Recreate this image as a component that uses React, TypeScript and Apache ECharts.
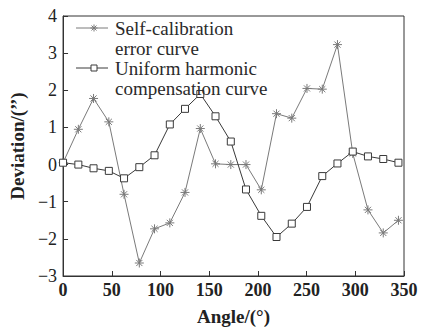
import React, { useEffect, useRef } from "react";
import * as echarts from "echarts";

const angles = [0, 15.7, 31.3, 47, 62.6, 78.3, 93.9, 109.6, 125.2, 140.9, 156.5, 172.2, 187.8, 203.5, 219.1, 234.8, 250.4, 266.1, 281.7, 297.4, 313, 328.7, 344.3];
const selfCalibration = [0.05, 0.95, 1.78, 1.15, -0.8, -2.65, -1.73, -1.57, -0.75, 0.97, 0.02, 0.0, 0.0, -0.68, 1.37, 1.25, 2.05, 2.03, 3.23, 0.3, -1.22, -1.84, -1.5];
const uniformHarmonic = [0.05, 0.0, -0.1, -0.17, -0.37, -0.07, 0.25, 1.08, 1.5, 1.9, 1.3, 0.62, -0.67, -1.38, -1.95, -1.59, -1.14, -0.31, 0.03, 0.35, 0.22, 0.15, 0.05];
const seriesNames = ["Self-calibration error curve", "Uniform harmonic compensation curve"];
const legendLines = [["Self-calibration", "error curve"], ["Uniform harmonic", "compensation curve"]];
const xTicks = { min: 0, max: 350, interval: 50 };
const yTicks = { min: -3, max: 4, interval: 1 };

const STAR = "path://M5,0L5,10M0,5L10,5M1.6,1.6L8.4,8.4M1.6,8.4L8.4,1.6";
const FONT = "Liberation Serif";
const GRAY = "#7a7a7a";
const DARK = "#3a3a3a";

export default function App() {
  const ref = useRef<HTMLDivElement>(null);
  useEffect(() => {
    if (!ref.current) return;
    try {
      echarts.graphic.registerShape(
        "legendStar",
        echarts.graphic.extendPath("M0,-3.5L0,3.5M-3.5,0L3.5,0M-2.5,-2.5L2.5,2.5M-2.5,2.5L2.5,-2.5", {})
      );
    } catch (e) {}
    const chart = echarts.init(ref.current, null, { renderer: "svg" });
    const s1 = angles.map((a, i) => [a, selfCalibration[i]]);
    const s2 = angles.map((a, i) => [a, uniformHarmonic[i]]);
    const lx1 = 76, lx2 = 108, tx = 115;
    const ly = [28, 68];
    const graphic: any[] = [];
    const titles: any[] = [];
    ly.forEach((y, k) => {
      const col = k === 0 ? GRAY : DARK;
      graphic.push({ type: "line", shape: { x1: lx1, y1: y, x2: lx2, y2: y }, style: { stroke: col, lineWidth: 1 }, z: 10 });
      if (k === 0) {
        graphic.push({ type: "legendStar", x: 94, y, style: { stroke: col, lineWidth: 1, fill: "none" }, z: 11 });
      } else {
        graphic.push({ type: "rect", shape: { x: 94 - 3, y: y - 3, width: 6, height: 6 }, style: { stroke: col, lineWidth: 1, fill: "#fff" }, z: 11 });
      }
      legendLines[k].forEach((t, j) => {
        titles.push({
          text: t, left: tx, top: y + j * 20 - 10, padding: 0, itemGap: 0,
          textStyle: { fontFamily: FONT, fontSize: 19, fontWeight: "normal", color: "#2a2a2a", lineHeight: 20 },
        });
      });
    });
    chart.setOption({
      animation: false,
      backgroundColor: "#fff",
      textStyle: { fontFamily: FONT },
      title: titles,
      grid: { left: 63, right: 25, top: 16, bottom: 50, show: true, borderColor: "#333", borderWidth: 1, backgroundColor: "transparent" },
      xAxis: {
        type: "value",
        min: xTicks.min, max: xTicks.max, interval: xTicks.interval,
        name: "Angle/(°)", nameLocation: "middle", nameGap: 31,
        nameTextStyle: { fontFamily: FONT, fontSize: 19, fontWeight: "bold", color: "#222" },
        axisLine: { onZero: false, lineStyle: { color: "#333", width: 1 } },
        axisTick: { inside: true, length: 5, lineStyle: { color: "#333" } },
        axisLabel: { fontFamily: FONT, fontSize: 18, fontWeight: "bold", color: "#222", margin: 5 },
        splitLine: { show: false },
      },
      yAxis: {
        type: "value",
        min: yTicks.min, max: yTicks.max, interval: yTicks.interval,
        name: "Deviation/(\u2019\u2019)", nameLocation: "middle", nameGap: 32,
        nameTextStyle: { fontFamily: FONT, fontSize: 19, fontWeight: "bold", color: "#222" },
        axisLine: { onZero: false, lineStyle: { color: "#333", width: 1 } },
        axisTick: { inside: true, length: 5, lineStyle: { color: "#333" } },
        axisLabel: { fontFamily: FONT, fontSize: 18, color: "#222", margin: 6, formatter: (v: number) => (v < 0 ? "\u2212" + Math.abs(v) : String(v)) },
        splitLine: { show: false },
      },
      graphic,
      series: [
        {
          name: seriesNames[0], type: "line", data: s1,
          symbol: STAR, symbolSize: 9, showSymbol: true,
          lineStyle: { color: GRAY, width: 1 },
          itemStyle: { color: GRAY, borderColor: GRAY, borderWidth: 1 },
          z: 2,
        },
        {
          name: seriesNames[1], type: "line", data: s2,
          symbol: "rect", symbolSize: 7, showSymbol: true,
          lineStyle: { color: DARK, width: 1 },
          itemStyle: { color: "#fff", borderColor: DARK, borderWidth: 1 },
          z: 3,
        },
      ],
    });
    return () => chart.dispose();
  }, []);
  return <div ref={ref} style={{ position: "absolute", left: 0, top: 0, width: 429, height: 331 }} />;
}
